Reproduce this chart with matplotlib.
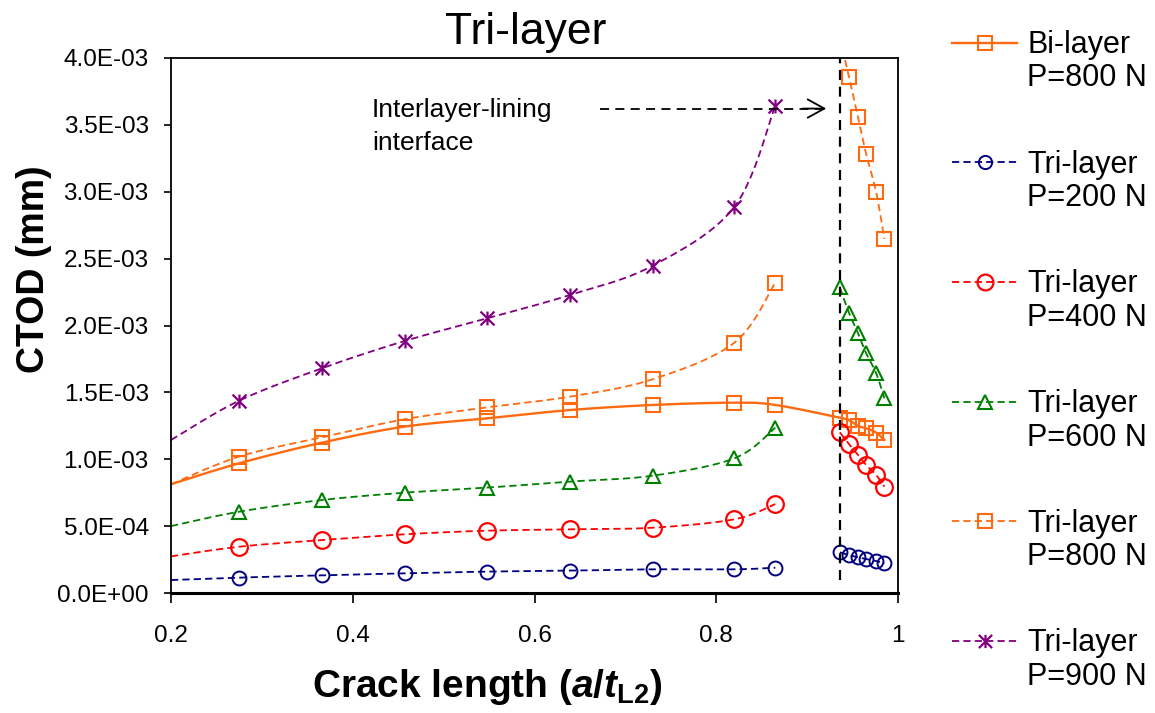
import numpy as np
import matplotlib
matplotlib.use("Agg")
import matplotlib.pyplot as plt
from matplotlib.path import Path
from matplotlib.ticker import FuncFormatter, FixedLocator

plt.rcParams['font.family'] = ['Liberation Sans', 'DejaVu Sans']
plt.rcParams['mathtext.fontset'] = 'custom'
plt.rcParams['mathtext.rm'] = 'Liberation Sans:bold'
plt.rcParams['mathtext.bf'] = 'Liberation Sans:bold'
plt.rcParams['mathtext.it'] = 'Liberation Sans:italic:bold'

# Crack length a/tL2 (first value is where the curve meets the left axis)
x_pre = [0.200, 0.275, 0.366, 0.457, 0.548, 0.639, 0.730, 0.820, 0.865]
x_post = [0.936, 0.946, 0.956, 0.965, 0.976, 0.985]

# CTOD values (mm)
bi800_pre = [0.813e-3, 0.970e-3, 1.124e-3, 1.244e-3, 1.306e-3, 1.368e-3, 1.406e-3, 1.423e-3, 1.406e-3]
bi800_post = [1.311e-3, 1.293e-3, 1.249e-3, 1.231e-3, 1.199e-3, 1.144e-3]
tri200_pre = [0.097e-3, 0.115e-3, 0.132e-3, 0.147e-3, 0.160e-3, 0.167e-3, 0.177e-3, 0.177e-3, 0.189e-3]
tri200_post = [0.304e-3, 0.284e-3, 0.267e-3, 0.254e-3, 0.239e-3, 0.222e-3]
tri400_pre = [0.274e-3, 0.346e-3, 0.396e-3, 0.439e-3, 0.466e-3, 0.476e-3, 0.488e-3, 0.551e-3, 0.665e-3]
tri400_post = [1.201e-3, 1.114e-3, 1.032e-3, 0.957e-3, 0.882e-3, 0.795e-3]
tri600_pre = [0.500e-3, 0.608e-3, 0.695e-3, 0.750e-3, 0.788e-3, 0.833e-3, 0.877e-3, 1.007e-3, 1.236e-3]
tri600_post = [2.285e-3, 2.096e-3, 1.942e-3, 1.792e-3, 1.643e-3, 1.456e-3]
tri800_pre = [0.813e-3, 1.020e-3, 1.164e-3, 1.299e-3, 1.388e-3, 1.468e-3, 1.598e-3, 1.872e-3, 2.320e-3]
tri800_post = [4.150e-3, 3.860e-3, 3.557e-3, 3.282e-3, 2.996e-3, 2.647e-3]
tri900_pre = [1.144e-3, 1.438e-3, 1.680e-3, 1.884e-3, 2.054e-3, 2.228e-3, 2.447e-3, 2.888e-3, 3.643e-3]

interface_x = 0.936
legend_labels = ["Bi-layer\nP=800 N", "Tri-layer\nP=200 N", "Tri-layer\nP=400 N",
                 "Tri-layer\nP=600 N", "Tri-layer\nP=800 N", "Tri-layer\nP=900 N"]
x_ticks = [0.2, 0.4, 0.6, 0.8, 1.0]
x_ticklabels = ["0.2", "0.4", "0.6", "0.8", "1"]
y_ticks = np.arange(0, 4.01e-3, 0.5e-3)

W, H = 1155, 713
fig = plt.figure(figsize=(W / 100, H / 100), dpi=100)
ax = fig.add_axes([171 / W, 1 - 593 / H, (898 - 171) / W, (593 - 58) / H])


def smooth(x, y, n=24):
    """Catmull-Rom style smoothed curve through the given points."""
    p = np.column_stack([x, y]).astype(float)
    pts = np.vstack([p[0], p, p[-1]])
    out = []
    t = np.linspace(0, 1, n)[:, None]
    for i in range(len(p) - 1):
        p0, p1, p2, p3 = pts[i], pts[i + 1], pts[i + 2], pts[i + 3]
        c1 = p1 + (p2 - p0) / 6.0
        c2 = p2 - (p3 - p1) / 6.0
        seg = ((1 - t) ** 3) * p1 + 3 * ((1 - t) ** 2) * t * c1 + 3 * (1 - t) * t ** 2 * c2 + t ** 3 * p2
        out.append(seg if i == 0 else seg[1:])
    c = np.vstack(out)
    return c[:, 0], c[:, 1]


asterisk = Path([(0, -1), (0, 1), (-1, -1), (1, 1), (-1, 1), (1, -1)],
                [Path.MOVETO, Path.LINETO, Path.MOVETO, Path.LINETO, Path.MOVETO, Path.LINETO])

ORANGE = '#FF6A10'
NAVY = '#000080'
RED = '#FF0000'
GREEN = '#008000'
PURPLE = '#800080'
DASH = (0, (4, 2.3))

styles = [
    dict(color=ORANGE, marker='s', ms=10, mew=1.5, ls='-', lw=1.7),
    dict(color=NAVY, marker='o', ms=10, mew=1.4, ls=DASH, lw=1.3),
    dict(color=RED, marker='o', ms=12, mew=1.6, ls=DASH, lw=1.3),
    dict(color=GREEN, marker='^', ms=10, mew=1.5, ls=DASH, lw=1.3),
    dict(color=ORANGE, marker='s', ms=10, mew=1.5, ls=DASH, lw=1.3),
    dict(color=PURPLE, marker=asterisk, ms=10, mew=1.6, ls=DASH, lw=1.3),
]


def draw(xs, ys, st, first_marker):
    cx, cy = smooth(xs, ys)
    ax.plot(cx, cy, color=st['color'], lw=st['lw'], linestyle=st['ls'], zorder=2)
    ax.plot(xs[first_marker:], ys[first_marker:], linestyle='none', marker=st['marker'],
            ms=st['ms'], mfc='none', mec=st['color'], mew=st['mew'], zorder=3)


# Bi-layer: one continuous curve across the interface
draw(x_pre + x_post, bi800_pre + bi800_post, styles[0], 1)
# Tri-layer: separate segments on either side of the interface
for pre, post, st in [(tri200_pre, tri200_post, styles[1]),
                      (tri400_pre, tri400_post, styles[2]),
                      (tri600_pre, tri600_post, styles[3]),
                      (tri800_pre, tri800_post, styles[4]),
                      (tri900_pre, None, styles[5])]:
    draw(x_pre, pre, st, 1)
    if post is not None:
        draw(x_post, post, st, 0)

# Interface marker line and annotation
ax.plot([interface_x, interface_x], [0.1e-3, 4.0e-3], color='black', lw=1.6,
        linestyle=(0, (4.5, 3)), zorder=4, clip_on=False)
arrow_y = 3.622e-3
ax.plot([0.672, 0.915], [arrow_y, arrow_y], color='black', lw=1.3, linestyle=(0, (5, 3.5)), zorder=4)
ax.annotate('', xy=(0.921, arrow_y), xytext=(0.895, arrow_y),
            arrowprops=dict(arrowstyle='->,head_length=0.6,head_width=0.33', color='black',
                            lw=1.3, mutation_scale=20, shrinkA=0, shrinkB=0))
ax.text(0.421, 3.559e-3, "Interlayer-lining", fontsize=19, ha='left', va='baseline')
ax.text(0.421, 3.312e-3, "interface", fontsize=19, ha='left', va='baseline')

ax.set_xlim(0.2, 1.0)
ax.set_ylim(0, 4.0e-3)
ax.xaxis.set_major_locator(FixedLocator(x_ticks))
ax.set_xticklabels(x_ticklabels)
ax.yaxis.set_major_locator(FixedLocator(y_ticks))
ax.yaxis.set_major_formatter(FuncFormatter(lambda v, p: f"{v:.1E}"))
ax.tick_params(axis='x', direction='out', length=7, width=1.2, pad=16, labelsize=17.5)
ax.tick_params(axis='y', direction='out', length=5, width=1.2, pad=11, labelsize=17.5)
for s in ax.spines.values():
    s.set_linewidth(1.3)
    s.set_color('black')
ax.spines['bottom'].set_linewidth(2.2)

# Overlay in pixel coordinates for title, axis titles and legend
lax = fig.add_axes([0, 0, 1, 1])
lax.set_xlim(0, W)
lax.set_ylim(H, 0)
lax.axis('off')
lax.patch.set_visible(False)

lax.text(526, 44, "Tri-layer", fontsize=32, ha='center', va='baseline')
lax.text(487, 697, r"Crack length ($a$/$t_{\mathrm{L2}}$)", fontsize=28, fontweight='bold',
         ha='center', va='baseline')
lax.text(34, 269, "CTOD (mm)", fontsize=27, fontweight='bold', rotation=90,
         ha='center', va='center')

leg_y0, leg_dy = 42.5, 119.7
for i, (lab, st) in enumerate(zip(legend_labels, styles)):
    yy = leg_y0 + i * leg_dy
    lax.plot([952, 1017], [yy, yy], color=st['color'], lw=st['lw'], linestyle=st['ls'])
    lax.plot([984.5], [yy], linestyle='none', marker=st['marker'], ms=st['ms'] * 0.95,
             mfc='none', mec=st['color'], mew=st['mew'])
    l1, l2 = lab.split("\n")
    lax.text(1027, yy + 10.5, l1, fontsize=22, ha='left', va='baseline')
    lax.text(1027, yy + 44, l2, fontsize=22, ha='left', va='baseline')

fig.savefig("out.png", dpi=100)
